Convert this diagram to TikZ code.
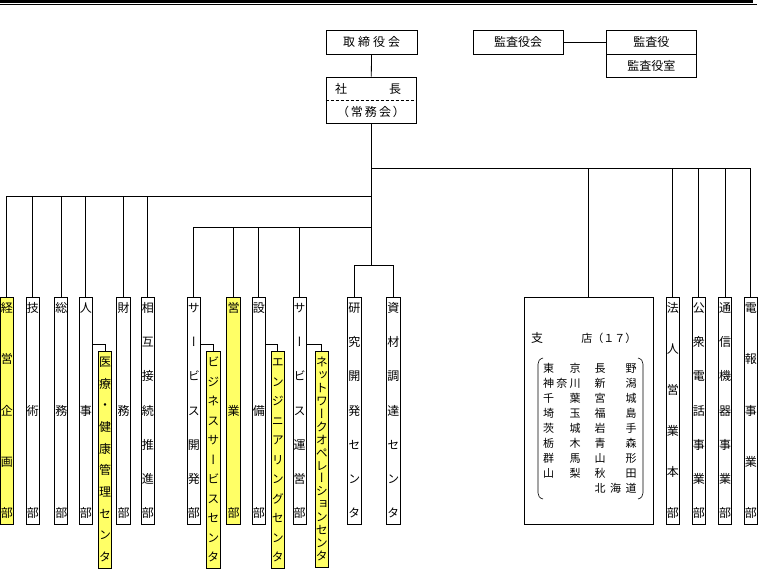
\documentclass[tikz,border=0pt]{standalone}
\usepackage{fontspec}
\newfontfamily\jp{Noto Sans CJK JP}
\newfontfamily\jpv[RawFeature=+vert]{Noto Sans CJK JP}
\definecolor{hl}{RGB}{255,255,102}
\tikzset{
  hbox/.style={draw, inner sep=0pt, font=\jp\fontsize{12}{12}\selectfont},
  deptbox/.style={draw, inner sep=0pt},
  vch/.style={inner sep=0pt, font=\jpv\fontsize{12}{12}\selectfont, text height=10.56pt, text depth=1.44pt},
  jch/.style={inner sep=0pt, font=\jp\fontsize{12}{12}\selectfont, text height=10.56pt, text depth=1.44pt},
  pch/.style={inner sep=0pt, font=\jp\fontsize{11}{11}\selectfont, text height=9.68pt, text depth=1.32pt},
  bracket/.style={line width=0.6pt},
}
% name, x1, x2, y1, y2, n, chars, fill
\newcommand\mkdept[8]{%
  \node[deptbox, fill=#8, minimum width={(#3-#2)*1pt}, minimum height={(#5-#4)*1pt}] (#1) at ({(#2+#3)/2},{(#4+#5)/2}) {};
  \foreach \chr [count=\idx] in {#7}{%
    \node[vch] (#1-\idx) at ({(#2+#3)/2},{#4+11+(\idx-1)*(#5-#4-22)/(#6-1)}) {\chr};
  }%
}
\begin{document}
\begin{tikzpicture}[x=1pt, y=-1pt, line width=0.8pt]
\useasboundingbox (0,0) rectangle (758,571);
% top rule
\fill (0,0) rectangle (753,3.3);
\draw[line width=1pt] (0,4.8) -- (757,4.8);

% top boxes
\node[hbox, minimum width=91pt, minimum height=24pt] (tori) at (371.5,42) {取\kern3pt 締\kern3pt 役\kern3pt 会};
\node[draw, inner sep=0pt, minimum width=90.7pt, minimum height=46pt] (shacho) at (371.3,100) {};
\draw[dash pattern=on 3pt off 2pt] (shacho.west) -- (shacho.east);
\node[jch] (sha) at (341,88.5) {社};
\node[jch] (cho) at (395,88.5) {長};
\node[jch] (jomu) at (371,111.5) {（\kern2pt 常\kern2pt 務\kern2pt 会\kern2pt ）};

\node[hbox, minimum width=90pt, minimum height=24pt] (kk) at (518,42) {監査役会};
\node[hbox, minimum width=89.3pt, minimum height=24pt] (ky) at (651.3,42) {監査役};
\node[hbox, minimum width=89.3pt, minimum height=23pt] (ks) at (651.3,65.5) {監査役室};
\draw (kk.east) -- (ky.west);

% bus levels
\coordinate (busA) at (0,168.3);
\coordinate (busB) at (0,196.7);
\coordinate (busC) at (0,227.7);
\coordinate (busD) at (0,265.3);
\coordinate (subbus) at (0,344);

% departments
\mkdept{keiei}{0.3}{13.3}{297}{524}{5}{経,営,企,画,部}{hl}
\mkdept{gijutsu}{26.3}{39.3}{297}{524}{3}{技,術,部}{white}
\mkdept{soumu}{54.8}{67.8}{297}{524}{3}{総,務,部}{white}
\mkdept{jinji}{79.3}{92.3}{297}{524}{3}{人,事,部}{white}
\mkdept{iryo}{98.3}{111.7}{351}{568}{10}{医,療,・,健,康,管,理,セ,ン,タ}{hl}
\mkdept{zaimu}{116.8}{130.3}{297}{524}{3}{財,務,部}{white}
\mkdept{sougo}{141.3}{154.3}{297}{524}{7}{相,互,接,続,推,進,部}{white}
\mkdept{sdev}{187.3}{200.3}{297}{524}{7}{サ,ー,ビ,ス,開,発,部}{white}
\mkdept{biz}{206.3}{220.3}{351}{568}{11}{ビ,ジ,ネ,ス,サ,ー,ビ,ス,セ,ン,タ}{hl}
\mkdept{eigyo}{226.7}{240.3}{297}{524}{3}{営,業,部}{hl}
\mkdept{setsubi}{252.3}{265.3}{297}{524}{3}{設,備,部}{white}
\mkdept{eng}{271.3}{284.3}{351}{568}{11}{エ,ン,ジ,ニ,ア,リ,ン,グ,セ,ン,タ}{hl}
\mkdept{sops}{293}{306}{297}{524}{7}{サ,ー,ビ,ス,運,営,部}{white}
\mkdept{noc}{315.3}{328.3}{351}{567}{16}{ネ,ッ,ト,ワ,ー,ク,オ,ペ,レ,ー,シ,ョ,ン,セ,ン,タ}{hl}
\mkdept{kenkyu}{347.3}{361.3}{297}{524}{7}{研,究,開,発,セ,ン,タ}{white}
\mkdept{shizai}{386.3}{400.3}{297}{524}{7}{資,材,調,達,セ,ン,タ}{white}
\mkdept{houjin}{666.3}{679.3}{297}{524}{6}{法,人,営,業,本,部}{white}
\mkdept{koshu}{692.3}{705.3}{297}{524}{7}{公,衆,電,話,事,業,部}{white}
\mkdept{tsushin}{718.3}{731.7}{297}{524}{7}{通,信,機,器,事,業,部}{white}
\mkdept{denpo}{744.3}{757.3}{297}{524}{5}{電,報,事,業,部}{white}

% branch box
\node[draw, inner sep=0pt, minimum width=129pt, minimum height=226.7pt] (shiten) at (588.8,410.7) {};
\node[jch] (shi) at (537,338) {支};
\node[pch, anchor=west] (ten) at (581,338) {店（１７）};
\foreach \r/\a/\b in {0/東/京,2/千/葉,3/埼/玉,4/茨/城,5/栃/木,6/群/馬,7/山/梨}{
  \node[pch] (l\r-a) at (548.5,{368+15.1*\r}) {\a};
  \node[pch] (l\r-b) at (575,{368+15.1*\r}) {\b};
}
\node[pch] (l1-a) at (548.5,383.1) {神};
\node[pch] (l1-m) at (561.8,383.1) {奈};
\node[pch] (l1-b) at (575,383.1) {川};
\foreach \r/\a/\b in {0/長/野,1/新/潟,2/宮/城,3/福/島,4/岩/手,5/青/森,6/山/形,7/秋/田}{
  \node[pch] (r\r-a) at (600,{368+15.1*\r}) {\a};
  \node[pch] (r\r-b) at (631,{368+15.1*\r}) {\b};
}
\node[pch] (r8-a) at (600,488.8) {北};
\node[pch] (r8-m) at (615.5,488.8) {海};
\node[pch] (r8-b) at (631,488.8) {道};
\draw[bracket] (543,358) .. controls (539.5,359) and (538,361) .. (538,364) -- (538,493) .. controls (538,496) and (539.5,498) .. (543,499);
\draw[bracket] (638,358) .. controls (641.5,359) and (643,361) .. (643,364) -- (643,493) .. controls (643,496) and (641.5,498) .. (638,499);

% connectors
\draw (tori.south) -- (shacho.north);
\draw (shacho.south) -- (shacho.south |- busD);
\draw (shacho.south |- busA) -| (denpo.north);
\draw (busA -| tsushin.north) -- (tsushin.north);
\draw (busA -| koshu.north) -- (koshu.north);
\draw (busA -| houjin.north) -- (houjin.north);
\draw (busA -| shiten.north) -- (shiten.north);

\draw (shacho.south |- busB) -| (keiei.north);
\draw (busB -| gijutsu.north) -- (gijutsu.north);
\draw (busB -| soumu.north) -- (soumu.north);
\draw (busB -| jinji.north) -- (jinji.north);
\draw (busB -| zaimu.north) -- (zaimu.north);
\draw (busB -| sougo.north) -- (sougo.north);

\draw (shacho.south |- busC) -| (sdev.north);
\draw (busC -| eigyo.north) -- (eigyo.north);
\draw (busC -| setsubi.north) -- (setsubi.north);
\draw (busC -| sops.north) -- (sops.north);

\draw (kenkyu.north) |- (shizai.north |- busD) -- (shizai.north);

\draw (subbus -| jinji.east) -| (iryo.north);
\draw (subbus -| sdev.east) -| (biz.north);
\draw (subbus -| setsubi.east) -| (eng.north);
\draw (subbus -| sops.east) -| (noc.north);
\end{tikzpicture}
\end{document}
